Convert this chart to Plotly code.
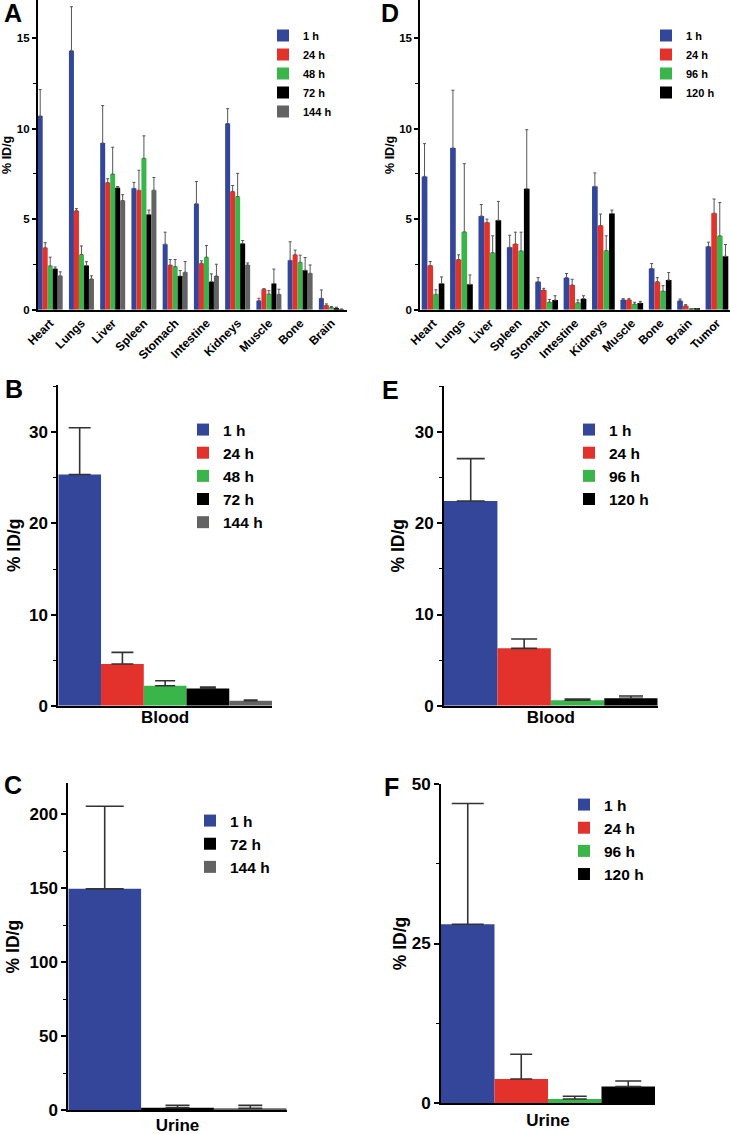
import plotly.graph_objects as go

W, H = 730, 1134
FONT = "Liberation Sans, Arial, Helvetica, sans-serif"

# ---------------- data ----------------
organs_a = ["Heart", "Lungs", "Liver", "Spleen", "Stomach", "Intestine", "Kidneys", "Muscle", "Bone", "Brain"]
times_a = ["1 h", "24 h", "48 h", "72 h", "144 h"]
a_1h = [10.7, 14.3, 9.2, 6.7, 3.62, 5.85, 10.28, 0.5, 2.73, 0.63]
a_1h_err = [1.45, 2.43, 2.07, 0.33, 0.66, 1.23, 0.82, 0.13, 1.02, 0.46]
a_24h = [3.42, 5.47, 7.02, 6.6, 2.47, 2.57, 6.53, 1.13, 3.04, 0.24]
a_24h_err = [0.28, 0.11, 0.21, 1.1, 0.3, 0.13, 0.33, 0.03, 0.25, 0.08]
a_48h = [2.42, 3.05, 7.49, 8.36, 2.38, 2.9, 6.25, 0.87, 2.62, 0.13]
a_48h_err = [0.48, 0.47, 1.48, 1.24, 0.39, 0.64, 1.28, 0.18, 0.39, 0.05]
a_72h = [2.26, 2.44, 6.73, 5.25, 1.86, 1.55, 3.65, 1.44, 2.18, 0.1]
a_72h_err = [0.1, 0.21, 0.07, 0.25, 0.3, 0.43, 0.17, 0.8, 0.7, 0.04]
a_144h = [1.87, 1.7, 6.03, 6.6, 2.07, 1.86, 2.47, 0.85, 2.01, 0.03]
a_144h_err = [0.22, 0.17, 0.32, 0.7, 0.59, 0.65, 0.11, 0.28, 0.46, 0.0]

organs_d = ["Heart", "Lungs", "Liver", "Spleen", "Stomach", "Intestine", "Kidneys", "Muscle", "Bone", "Brain", "Tumor"]
times_d = ["1 h", "24 h", "96 h", "120 h"]
d_1h = [7.36, 8.93, 5.17, 3.45, 1.55, 1.77, 6.81, 0.55, 2.27, 0.5, 3.49]
d_1h_err = [1.81, 3.19, 0.64, 0.66, 0.22, 0.23, 0.74, 0.06, 0.28, 0.09, 0.24]
d_24h = [2.44, 2.77, 4.82, 3.63, 1.09, 1.37, 4.65, 0.55, 1.55, 0.22, 5.33]
d_24h_err = [0.22, 0.26, 0.18, 0.65, 0.09, 0.31, 0.63, 0.06, 0.22, 0.06, 0.78]
d_96h = [0.85, 4.3, 3.15, 3.25, 0.42, 0.39, 3.27, 0.31, 1.03, 0.04, 4.08]
d_96h_err = [0.25, 3.76, 0.93, 1.03, 0.15, 0.15, 0.81, 0.1, 0.3, 0.0, 1.84]
d_120h = [1.44, 1.4, 4.94, 6.68, 0.53, 0.61, 5.31, 0.37, 1.64, 0.04, 2.95]
d_120h_err = [0.37, 0.52, 1.04, 3.26, 0.24, 0.16, 0.19, 0.09, 0.41, 0.0, 0.65]

blood_cat = ["Blood"]
b_times = ["1 h", "24 h", "48 h", "72 h", "144 h"]
b_vals = [25.37, 4.57, 2.19, 1.9, 0.55]
b_errs = [5.13, 1.28, 0.55, 0.15, 0.07]

e_times = ["1 h", "24 h", "96 h", "120 h"]
e_vals = [22.45, 6.29, 0.59, 0.81]
e_errs = [4.65, 1.02, 0.14, 0.25]

urine_cat = ["Urine"]
c_times = ["1 h", "72 h", "144 h"]
c_vals = [149.6, 1.5, 1.1]
c_errs = [55.9, 1.6, 2.0]

f_times = ["1 h", "24 h", "96 h", "120 h"]
f_vals = [28.0, 3.8, 0.68, 2.61]
f_errs = [18.9, 3.87, 0.42, 0.88]

COLORS = {"1 h": "#34469A", "24 h": "#E3312B", "48 h": "#3AB54A", "96 h": "#3AB54A",
          "72 h": "#000000", "120 h": "#000000", "144 h": "#636363"}

fig = go.Figure()

def px_x(p):
    return p / W

def px_y(p):
    return 1 - p / H

# ---------- A ----------
a_series = [(a_1h, a_1h_err), (a_24h, a_24h_err), (a_48h, a_48h_err), (a_72h, a_72h_err), (a_144h, a_144h_err)]
for t, (v, e) in zip(times_a, a_series):
    fig.add_trace(go.Bar(x=organs_a, y=v, name=t, marker=dict(color=COLORS[t], line=dict(width=0)),
                         error_y=dict(type="data", array=e, arrayminus=[0] * len(e), symmetric=False,
                                      color="#555555", thickness=1, width=1.5),
                         xaxis="x", yaxis="y", legend="legend"))

# ---------- D ----------
d_series = [(d_1h, d_1h_err), (d_24h, d_24h_err), (d_96h, d_96h_err), (d_120h, d_120h_err)]
for t, (v, e) in zip(times_d, d_series):
    fig.add_trace(go.Bar(x=organs_d, y=v, name=t, marker=dict(color=COLORS[t], line=dict(width=0)),
                         error_y=dict(type="data", array=e, arrayminus=[0] * len(e), symmetric=False,
                                      color="#555555", thickness=1, width=1.5),
                         xaxis="x2", yaxis="y2", legend="legend2"))

def single(cat, times, vals, errs, xa, ya, lg, capw):
    for t, v, e, w in zip(times, vals, errs, capw):
        fig.add_trace(go.Bar(x=cat, y=[v], name=t, marker=dict(color=COLORS[t], line=dict(width=0)),
                             error_y=dict(type="data", array=[e], arrayminus=[0], symmetric=False,
                                          color="#333333", thickness=1.6, width=w),
                             xaxis=xa, yaxis=ya, legend=lg))

single(blood_cat, b_times, b_vals, b_errs, "x3", "y3", "legend3", [11, 11, 10, 8, 7])
single(blood_cat, e_times, e_vals, e_errs, "x4", "y4", "legend4", [14, 13, 13, 12])
single(urine_cat, c_times, c_vals, c_errs, "x5", "y5", "legend5", [19, 12, 12])
single(urine_cat, f_times, f_vals, f_errs, "x6", "y6", "legend6", [16, 11, 12, 13])

def yaxis(dom_top, dom_bot, rng, dtick, minor, tfs, title_fs, standoff, lw, tl):
    return dict(domain=[px_y(dom_bot), px_y(dom_top)], range=rng, dtick=dtick,
                tick0=0, showgrid=False, zeroline=False, showline=True, linecolor="black",
                linewidth=lw, ticks="outside", ticklen=tl, tickwidth=lw, tickcolor="black",
                minor=dict(dtick=minor, ticks="outside", ticklen=3, tickwidth=1, tickcolor="black"),
                tickfont=dict(family=FONT, size=tfs, color="black", weight="bold"),
                title=dict(text="% ID/g", font=dict(family=FONT, size=title_fs, color="black", weight="bold"),
                           standoff=standoff),
                automargin=False, fixedrange=True)

def xaxis(x0, x1, rng, tfs, angle, lw, lstand=0):
    return dict(domain=[px_x(x0), px_x(x1)], range=rng, showgrid=False, zeroline=False,
                showline=True, linecolor="black", linewidth=lw, ticks="", type="category",
                tickangle=angle, tickfont=dict(family=FONT, size=tfs, color="black", weight="bold"),
                ticklabelstandoff=lstand, automargin=False, fixedrange=True)

lay = {}
lay["xaxis"] = xaxis(37.7, 347, [-0.4, 9.5], 12, -45, 1.5)
lay["yaxis"] = yaxis(0, 309.7, [0, 17.1], 5, 2.5, 11.5, 12.5, 6, 1.5, 4)
lay["xaxis2"] = xaxis(420, 730, [-0.46, 10.46], 12, -45, 1.5)
lay["yaxis2"] = yaxis(0, 309.7, [0, 17.1], 5, 2.5, 11.5, 12.5, 2, 1.5, 4)
lay["xaxis3"] = xaxis(58.3, 272, [-0.4, 0.4], 17, 0, 2, -5)
lay["yaxis3"] = yaxis(385, 705.7, [0, 35.2], 10, 5, 17, 17.5, 4, 2, 5)
lay["xaxis4"] = xaxis(444, 657.7, [-0.4, 0.4], 17, 0, 2, -5)
lay["yaxis4"] = yaxis(385.7, 705.7, [0, 35.1], 10, 5, 17, 17.5, 6, 2, 5)
lay["xaxis5"] = xaxis(68.3, 286.7, [-0.4, 0.4], 17, 0, 2, -1)
lay["yaxis5"] = yaxis(783.3, 1110, [0, 221], 50, 25, 17, 17.5, 5, 2, 5)
lay["xaxis6"] = xaxis(441, 655, [-0.4, 0.4], 17, 0, 2)
lay["yaxis6"] = yaxis(783.7, 1103.3, [0, 50], 25, 12.5, 17, 17.5, 1, 2, 5)

for i in range(1, 7):
    sx = "" if i == 1 else str(i)
    lay["xaxis" + sx]["anchor"] = "y" + sx
    lay["yaxis" + sx]["anchor"] = "x" + sx

def legend(x, y, fs):
    return dict(x=px_x(x), y=px_y(y), xanchor="left", yanchor="top", bgcolor="rgba(0,0,0,0)",
                borderwidth=0, font=dict(family=FONT, size=fs, color="black", weight="bold"),
                itemclick=False, itemdoubleclick=False, tracegroupgap=0)

lay["legend"] = legend(263, 21, 11)
lay["legend2"] = legend(646, 21, 11)
lay["legend3"] = legend(183, 413, 15.5)
lay["legend4"] = legend(569, 413, 15.5)
lay["legend5"] = legend(190, 804, 15.5)
lay["legend6"] = legend(564, 788, 15.5)

letters = [("A", 2, 13), ("D", 379, 13), ("B", 3, 389), ("E", 380, 390), ("C", 2, 785), ("F", 382, 787)]
annotations = []
for txt, x, y in letters:
    annotations.append(dict(text=txt, x=px_x(x), y=px_y(y), xref="paper", yref="paper",
                            xanchor="left", yanchor="middle", showarrow=False,
                            font=dict(family=FONT, size=25, color="black", weight="bold")))

fig.update_layout(**lay)
fig.update_layout(width=W, height=H, margin=dict(l=0, r=0, t=0, b=0), autosize=False,
                  paper_bgcolor="white", plot_bgcolor="white", barmode="group",
                  bargap=0.2, bargroupgap=0, showlegend=True, annotations=annotations,
                  font=dict(family=FONT, color="black"))

fig.write_html("out.html", config={"displayModeBar": False},
               post_script="document.body.style.margin='0px';document.body.style.padding='0px';")
